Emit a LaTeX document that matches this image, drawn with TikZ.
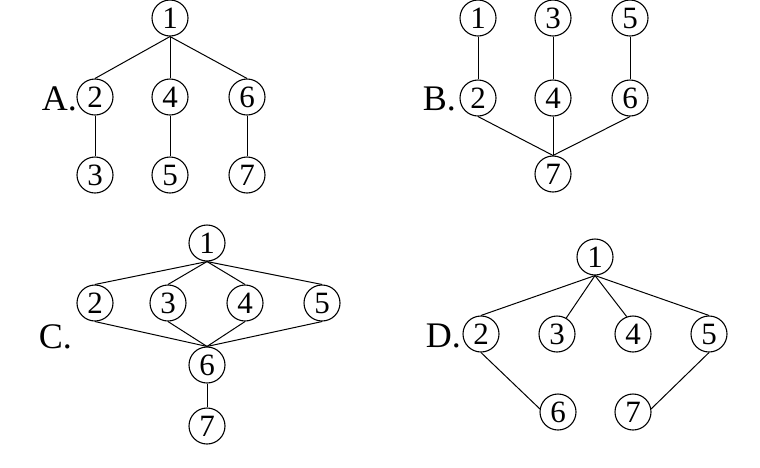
\documentclass[tikz,border=0pt]{standalone}
\usepackage{fontspec}
\setmainfont{Liberation Serif}
\begin{document}
\begin{tikzpicture}[x=1pt,y=-1pt,
  vtx/.style={circle,draw,line width=1.1pt,minimum size=36pt,inner sep=0pt,font=\fontsize{31}{31}\selectfont},
  lbl/.style={anchor=base east,inner sep=0pt,font=\fontsize{36}{36}\selectfont},
  edge/.style={line width=1pt}]
\useasboundingbox (0,0) rectangle (760,467);
% A
\node[vtx] (a1) at (170,18) {1};
\node[vtx] (a2) at (95,97) {2};
\node[vtx] (a4) at (170,97) {4};
\node[vtx] (a6) at (247,97) {6};
\node[vtx] (a3) at (95,175) {3};
\node[vtx] (a5) at (170,175) {5};
\node[vtx] (a7) at (247,175) {7};
\node[lbl] (la) at (77,110) {A.};
\draw[edge] (a1.south) -- (a2.north);
\draw[edge] (a1.south) -- (a4.north);
\draw[edge] (a1.south) -- (a6.north);
\draw[edge] (a2) -- (a3);
\draw[edge] (a4) -- (a5);
\draw[edge] (a6) -- (a7);
% B
\node[vtx] (b1) at (478,18) {1};
\node[vtx] (b3) at (553,18) {3};
\node[vtx] (b5) at (630,18) {5};
\node[vtx] (b2) at (478,98) {2};
\node[vtx] (b4) at (553,98) {4};
\node[vtx] (b6) at (630,98) {6};
\node[vtx] (b7) at (553,174) {7};
\node[lbl] (lb) at (456,110) {B.};
\draw[edge] (b1) -- (b2);
\draw[edge] (b3) -- (b4);
\draw[edge] (b5) -- (b6);
\draw[edge] (b2.south) -- (b7.north);
\draw[edge] (b4.south) -- (b7.north);
\draw[edge] (b6.south) -- (b7.north);
% C
\node[vtx] (c1) at (207,243) {1};
\node[vtx] (c2) at (95,303) {2};
\node[vtx] (c3) at (168,303) {3};
\node[vtx] (c4) at (245,303) {4};
\node[vtx] (c5) at (322,303) {5};
\node[vtx] (c6) at (207,365) {6};
\node[vtx] (c7) at (207,426) {7};
\node[lbl] (lc) at (72,348) {C.};
\foreach \k in {2,3,4,5}{
  \draw[edge] (c1.south) -- (c\k.north);
  \draw[edge] (c\k.south) -- (c6.north);
}
\draw[edge] (c6) -- (c7);
% D
\node[vtx] (d1) at (595,257) {1};
\node[vtx] (d2) at (481,334) {2};
\node[vtx] (d3) at (557,334) {3};
\node[vtx] (d4) at (633,334) {4};
\node[vtx] (d5) at (709,334) {5};
\node[vtx] (d6) at (558,412) {6};
\node[vtx] (d7) at (633,412) {7};
\node[lbl] (ld) at (461,347) {D.};
\draw[edge] (d1.south) -- (d2.north);
\draw[edge] (d1.south) -- (d3.60);
\draw[edge] (d1.south) -- (d4.110);
\draw[edge] (d1.south) -- (d5.north);
\draw[edge] (d2.south) -- (d6.170);
\draw[edge] (d5.south) -- (d7.10);
\end{tikzpicture}
\end{document}
